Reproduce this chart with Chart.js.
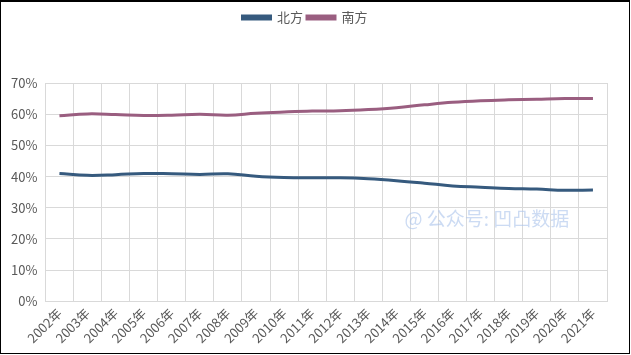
<!DOCTYPE html>
<html><head><meta charset="utf-8">
<script src="https://cdn.jsdelivr.net/npm/chart.js@4"></script>
<style>
html,body{margin:0;padding:0;background:#fff;}
#box{position:absolute;left:0;top:0;width:630px;height:354px;box-sizing:border-box;border:1px solid #000;border-top-width:2px;}
#wrap{position:absolute;left:0;top:0;width:628px;height:351px;}
</style></head>
<body>
<div id="box"><div id="wrap"><canvas id="c"></canvas></div></div>
<script>
const categories = ['2002年','2003年','2004年','2005年','2006年','2007年','2008年','2009年','2010年','2011年','2012年','2013年','2014年','2015年','2016年','2017年','2018年','2019年','2020年','2021年'];
const north = [41.0,40.4,40.6,41.0,40.9,40.7,40.9,40.1,39.7,39.6,39.6,39.3,38.7,37.9,37.0,36.6,36.2,36.0,35.6,35.7];
const south = [59.5,60.1,59.9,59.6,59.7,60.0,59.7,60.3,60.7,61.0,61.1,61.5,62.1,63.0,63.8,64.3,64.6,64.8,65.0,65.0];
const yTicks = [0,10,20,30,40,50,60,70];
const seriesNames = ['北方','南方'];
const watermark = '@ 公众号: 凹凸数据';

const font = "'Noto Sans CJK SC','Noto Sans',sans-serif";
Chart.defaults.font.family = font;
Chart.defaults.color = '#595959';

const wm = {
  id:'wm',
  afterDatasetsDraw(chart){
    const {ctx, chartArea} = chart;
    ctx.save();
    ctx.font = "19px " + font;
    ctx.fillStyle = 'rgba(170,195,235,0.6)';
    ctx.textBaseline = 'middle';
    ctx.fillText(watermark, chartArea.left + 359, chartArea.top + 136);
    ctx.restore();
  }
};
const legendSpace = {
  id:'legendSpace',
  beforeInit(chart){
    const fit = chart.legend.fit;
    chart.legend.fit = function(){ fit.bind(chart.legend)(); this.height += 49; };
  }
};

new Chart(document.getElementById('c'), {
  type:'line',
  data:{
    labels:categories,
    datasets:[
      {label:seriesNames[0], data:north, borderColor:'#365a7e', backgroundColor:'#365a7e', borderWidth:3, pointRadius:0, tension:0.4, fill:false},
      {label:seriesNames[1], data:south, borderColor:'#9a5e80', backgroundColor:'#9a5e80', borderWidth:3, pointRadius:0, tension:0.4, fill:false}
    ]
  },
  options:{
    responsive:true, maintainAspectRatio:false, animation:false,
    layout:{padding:{left:2,right:22,top:5,bottom:3}},
    plugins:{
      legend:{position:'top', labels:{boxWidth:28, boxHeight:3, font:{size:13}, color:'#595959', padding:4}},
      tooltip:{enabled:false}
    },
    scales:{
      x:{
        offset:true,
        grid:{offset:true, color:'#d9d9d9', drawTicks:false},
        border:{color:'#d9d9d9'},
        ticks:{maxRotation:45, minRotation:45, autoSkip:false, font:{size:13}, padding:4, color:'#595959'}
      },
      y:{
        min:0, max:70,
        afterBuildTicks(axis){ axis.ticks = yTicks.map(v=>({value:v})); },
        grid:{color:'#d9d9d9', drawTicks:false},
        border:{display:false},
        ticks:{callback:v=>v+'%', font:{size:13}, padding:8, color:'#595959'}
      }
    }
  },
  plugins:[legendSpace, wm]
});
</script>
</body></html>
